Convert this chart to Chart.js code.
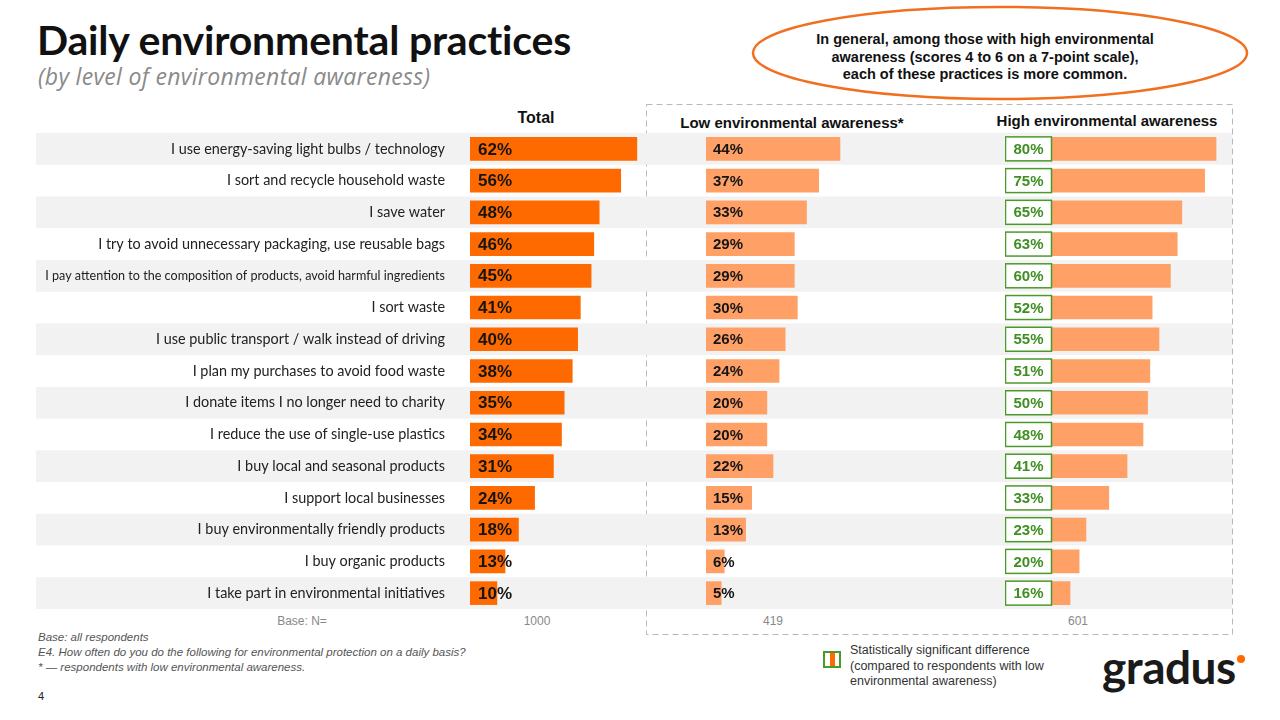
<!DOCTYPE html>
<html>
<head>
<meta charset="utf-8">
<script src="https://cdn.jsdelivr.net/npm/chart.js"></script>
<style>
  html, body { margin: 0; padding: 0; background: #fff; }
  body { width: 1280px; height: 720px; position: relative; overflow: hidden; font-family: 'Liberation Sans', Arial, sans-serif; }
  .abs { position: absolute; white-space: nowrap; }
  #title { left: 37px; top: 15px; font-family: Lato, sans-serif; font-weight: 700; font-size: 41px; color: #111; letter-spacing: -0.2px; }
  #subtitle { left: 38px; top: 60px; font-family: 'Open Sans', sans-serif; font-style: italic; font-size: 23px; letter-spacing: 0.3px; color: #8a8a8a; }
  .hdr { font-weight: 700; font-size: 15px; color: #111; transform: translateX(-50%); }
  .base { font-size: 12px; color: #888; transform: translateX(-50%); }
  .note { left: 38px; font-style: italic; font-size: 11.5px; color: #555; }
  canvas { position: absolute; }
</style>
</head>
<body>
<div id="title" class="abs">Daily environmental practices</div>
<div id="subtitle" class="abs">(by level of environmental awareness)</div>

<svg class="abs" style="left:0;top:0" width="1280" height="720">
  <ellipse cx="1000" cy="53" rx="247" ry="46" fill="none" stroke="#f07020" stroke-width="2.5"/>
  <rect x="646.5" y="104.5" width="586" height="530" fill="none" stroke="#b8b8b8" stroke-width="1" stroke-dasharray="6,4"/>
  <rect x="824" y="652" width="16" height="15" fill="none" stroke="#4a9a2a" stroke-width="2"/>
  <rect x="830" y="653" width="5" height="13" fill="#ff6a00"/>
  <circle cx="1241" cy="659" r="4" fill="#ff6a00"/>
</svg>

<div class="abs" style="left:985px;top:31px;transform:translateX(-50%);text-align:center;font-weight:700;font-size:14.5px;line-height:17.5px;color:#111;">In general, among those with high environmental<br>awareness (scores 4 to 6 on a 7-point scale),<br>each of these practices is more common.</div>

<div class="abs hdr" style="left:536px;top:109px;font-size:16px;">Total</div>
<div class="abs hdr" style="left:792px;top:114px;">Low environmental awareness*</div>
<div class="abs hdr" style="left:1107px;top:112px;">High environmental awareness</div>

<canvas id="cTotal"></canvas>
<canvas id="cLow"></canvas>
<canvas id="cHigh"></canvas>

<div class="abs base" style="left:302px;top:614px;">Base: N=</div>
<div class="abs base" id="nTotal" style="left:537px;top:614px;"></div>
<div class="abs base" id="nLow" style="left:773px;top:614px;"></div>
<div class="abs base" id="nHigh" style="left:1078px;top:614px;"></div>

<div class="abs note" style="top:631px;">Base: all respondents</div>
<div class="abs note" style="top:646px;">E4. How often do you do the following for environmental protection on a daily basis?</div>
<div class="abs note" style="top:661px;">* — respondents with low environmental awareness.</div>
<div class="abs" style="left:38px;top:690px;font-size:11px;color:#222;">4</div>

<div class="abs" style="left:850px;top:643px;font-size:12.5px;line-height:15.5px;color:#333;">Statistically significant difference<br>(compared to respondents with low<br>environmental awareness)</div>
<div class="abs" style="left:1102px;top:641px;font-family:Lato,sans-serif;font-weight:700;font-size:46px;line-height:52px;color:#1a1a1a;letter-spacing:-0.5px;">gradus</div>

<script>
// rows, top to bottom
const categories = [
  'I use energy-saving light bulbs / technology',
  'I sort and recycle household waste',
  'I save water',
  'I try to avoid unnecessary packaging, use reusable bags',
  'I pay attention to the composition of products, avoid harmful ingredients',
  'I sort waste',
  'I use public transport / walk instead of driving',
  'I plan my purchases to avoid food waste',
  'I donate items I no longer need to charity',
  'I reduce the use of single-use plastics',
  'I buy local and seasonal products',
  'I support local businesses',
  'I buy environmentally friendly products',
  'I buy organic products',
  'I take part in environmental initiatives'
];
const totalValues = [62, 56, 48, 46, 45, 41, 40, 38, 35, 34, 31, 24, 18, 13, 10];
const lowValues   = [44, 37, 33, 29, 29, 30, 26, 24, 20, 20, 22, 15, 13, 6, 5];
const highValues  = [80, 75, 65, 63, 60, 52, 55, 51, 50, 48, 41, 33, 23, 20, 16];
const baseN = { total: 1000, low: 419, high: 601 };

document.getElementById('nTotal').textContent = baseN.total;
document.getElementById('nLow').textContent = baseN.low;
document.getElementById('nHigh').textContent = baseN.high;

const TOP = 133, HEIGHT = 476;
const stripeColor = '#f2f2f2';

// alternating row background across the full canvas width
const stripes = {
  id: 'stripes',
  beforeDraw(chart) {
    const ctx = chart.ctx, y = chart.scales.y;
    const band = (y.bottom - y.top) / categories.length;
    ctx.save();
    ctx.fillStyle = stripeColor;
    categories.forEach((c, i) => {
      if (i % 2 === 0) {
        const cy = y.getPixelForValue(i);
        ctx.fillRect(0, cy - band / 2, chart.width, band);
      }
    });
    ctx.restore();
  }
};

function valueLabels(kind) {
  return {
    id: 'labels_' + kind,
    afterDatasetsDraw(chart) {
      const ctx = chart.ctx;
      const meta = chart.getDatasetMeta(0);
      const left = chart.chartArea.left;
      ctx.save();
      ctx.textBaseline = 'middle';
      meta.data.forEach((bar, i) => {
        const v = chart.data.datasets[0].data[i];
        if (kind === 'high') {
          const bx = left - 28, bw = 46, bh = 24;
          ctx.fillStyle = '#fff';
          ctx.fillRect(bx, bar.y - bh / 2, bw, bh);
          ctx.strokeStyle = '#4a9a2a';
          ctx.lineWidth = 1.5;
          ctx.strokeRect(bx, bar.y - bh / 2, bw, bh);
          ctx.fillStyle = '#3f8f22';
          ctx.font = 'bold 15px "Liberation Sans", Arial, sans-serif';
          ctx.textAlign = 'center';
          ctx.fillText(v + '%', bx + bw / 2, bar.y + 1);
        } else {
          ctx.fillStyle = '#151515';
          ctx.font = kind === 'total' ? 'bold 17px "Liberation Sans", Arial, sans-serif'
                                      : 'bold 15px "Liberation Sans", Arial, sans-serif';
          ctx.textAlign = 'left';
          ctx.fillText(v + '%', left + (kind === 'total' ? 8 : 7), bar.y + 1);
        }
      });
      ctx.restore();
    }
  };
}

function makeChart(id, left, width, padLeft, xmax, values, color, kind, showLabels) {
  const el = document.getElementById(id);
  el.style.left = left + 'px';
  el.style.top = TOP + 'px';
  el.width = width;
  el.height = HEIGHT;
  el.style.width = width + 'px';
  el.style.height = HEIGHT + 'px';
  return new Chart(el, {
    type: 'bar',
    data: {
      labels: categories,
      datasets: [{ data: values, backgroundColor: color, borderWidth: 0, barThickness: 23 }]
    },
    options: {
      indexAxis: 'y',
      responsive: false,
      animation: false,
      layout: { padding: { left: padLeft, right: 0, top: 0, bottom: 0 } },
      plugins: { legend: { display: false }, tooltip: { enabled: false } },
      scales: {
        x: { display: false, min: 0, max: xmax },
        y: {
          display: showLabels,
          grid: { display: false, drawTicks: false },
          border: { display: false },
          ticks: {
            color: '#222',
            padding: 25,
            font: (c) => ({ family: 'Lato, sans-serif', size: c.index === 4 ? 12.6 : 14.4 })
          },
          afterFit(scale) {
            if (showLabels) scale.width = 434;
            // tick padding should not push the rows down
            scale.paddingTop = 0;
            scale.paddingBottom = 0;
          }
        }
      }
    },
    plugins: [stripes, valueLabels(kind)]
  });
}

makeChart('cTotal', 36, 610, 0, 65.4, totalValues, '#ff6a00', 'total', true);
makeChart('cLow', 646, 359, 60, 98.2, lowValues, '#ffa066', 'low', false);
makeChart('cHigh', 1005, 227, 28.5, 87, highValues, '#ffa066', 'high', false);
</script>
</body>
</html>
